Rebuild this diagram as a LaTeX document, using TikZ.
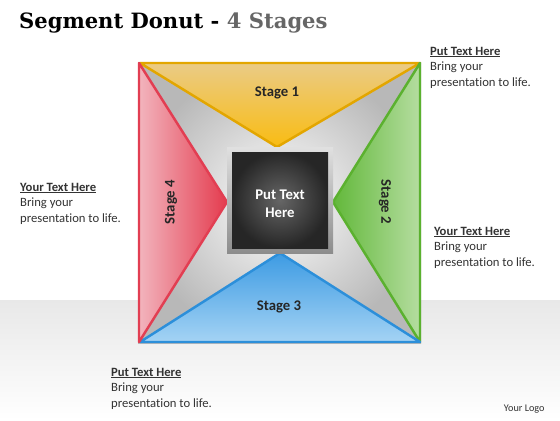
\documentclass[tikz,border=0pt]{standalone}
\usepackage{fontspec}
\setmainfont[Ligatures=NoCommon]{Carlito}
\newfontfamily\titlefont{DejaVu Serif}

\definecolor{oneline}{HTML}{E3A600}
\definecolor{onelight}{HTML}{EACB86}
\definecolor{onedark}{HTML}{F9BC12}
\definecolor{twoline}{HTML}{5BB12F}
\definecolor{twolight}{HTML}{B5DDA0}
\definecolor{twodark}{HTML}{62B83A}
\definecolor{threeline}{HTML}{2C8FDA}
\definecolor{threelight}{HTML}{A4D3F4}
\definecolor{threedark}{HTML}{3D9BE3}
\definecolor{fourline}{HTML}{E23E52}
\definecolor{fourlight}{HTML}{F2B4BD}
\definecolor{fourdark}{HTML}{E43B4E}

\begin{document}
\begin{tikzpicture}[x=0.05cm,y=-0.05cm,
    edge/.style={line width=3.5pt,line join=round},
    note/.style={anchor=north west,align=left,inner sep=0pt,
      font=\fontsize{18}{22}\selectfont,text=black!80},
    stagelabel/.style={font=\fontsize{21}{26}\selectfont\bfseries,text=black!85}]

  \useasboundingbox (0,0) rectangle (560,420);
  \fill[white] (0,0) rectangle (560,420);
  \shade[top color=black!9,bottom color=white] (0,300) rectangle (560,420);

  % square behind the stages
  \shade[inner color=white,outer color=black!28] (138,62) rectangle (421,343);

  % the four stages
  \shade[top color=onelight,bottom color=onedark] (140,63) -- (420,63) -- (277,147) -- cycle;
  \draw[edge,oneline] (140,63) -- (420,63) -- (277,147) -- cycle;

  \shade[left color=twodark,right color=twolight] (420,63) -- (420,342) -- (333,202) -- cycle;
  \draw[edge,twoline] (420,63) -- (420,342) -- (333,202) -- cycle;

  \shade[top color=threedark,bottom color=threelight] (140,342) -- (420,342) -- (280,253) -- cycle;
  \draw[edge,threeline] (140,342) -- (420,342) -- (280,253) -- cycle;

  \shade[left color=fourlight,right color=fourdark] (139,63) -- (139,342) -- (227,202) -- cycle;
  \draw[edge,fourline] (139,63) -- (139,342) -- (227,202) -- cycle;

  % centre box
  \shade[top color=black!12,bottom color=black!45] (227,147) rectangle (333,253);
  \shade[inner color=black!60,outer color=black!85] (232,152) rectangle (328,248);

  \begin{scope}[every node/.style={stagelabel}]
    \node (stage1) at (277,93) {Stage 1};
    \node[rotate=-90] (stage2) at (385,202) {Stage 2};
    \node (stage3) at (279,307) {Stage 3};
    \node[rotate=90] (stage4) at (171,202) {Stage 4};
    \node[align=center,text=white] (centre) at (280,204) {Put Text\\Here};
  \end{scope}

  \node[anchor=base west,inner sep=0pt,font=\titlefont\fontsize{30}{34}\selectfont\bfseries]
    (title) at (19,28) {Segment Donut - \textcolor{black!60}{4 Stages}};

  \begin{scope}[every node/.style={note}]
    \node (noteone) at (430,47) {\textbf{\underline{Put Text Here}}\\Bring your\\presentation to life.};
    \node (notetwo) at (434,227) {\textbf{\underline{Your Text Here}}\\Bring your\\presentation to life.};
    \node (notethree) at (111,368) {\textbf{\underline{Put Text Here}}\\Bring your\\presentation to life.};
    \node (notefour) at (20,183) {\textbf{\underline{Your Text Here}}\\Bring your\\presentation to life.};
  \end{scope}

  \node[anchor=base east,font=\fontsize{14.5}{17}\selectfont,text=black!80] (logo) at (547,411) {Your Logo};

\end{tikzpicture}
\end{document}
